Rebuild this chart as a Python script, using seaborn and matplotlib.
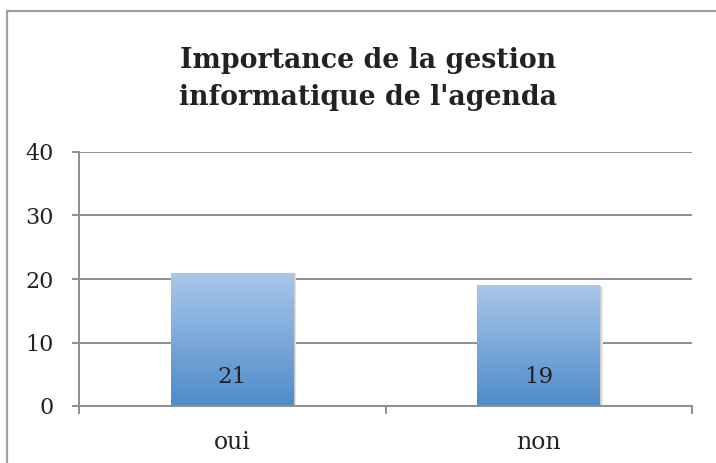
import numpy as np
import pandas as pd
import matplotlib
matplotlib.use("Agg")
from matplotlib import pyplot as plt
from matplotlib.colors import LinearSegmentedColormap
from matplotlib.lines import Line2D
import seaborn as sns

#======== Data ========#
categories = ['oui', 'non']
values = [21, 19]
yticks = [0, 10, 20, 30, 40]
title = "Importance de la gestion\ninformatique de l'agenda"

df = pd.DataFrame({'reponse': categories, 'nombre': values})

sns.set_style('white')
plt.rcParams['font.family'] = ['DejaVu Serif']

W, H = 716, 463
fig = plt.figure(figsize=(W / 100, H / 100), dpi=100)
ax = fig.add_axes([79 / W, 1 - 406 / H, (692 - 79) / W, (406 - 152) / H])

grid_col = '#8e8e8e'
txt_col = '#222222'
sns.barplot(x='reponse', y='nombre', data=df, ax=ax, width=0.4,
            color='#7aa7da', edgecolor='none', zorder=3)

# gradient fill clipped to each bar
cmap = LinearSegmentedColormap.from_list('bleu', ['#4e8bca', '#a9c7e9'])
grad = np.linspace(0, 1, 256).reshape(-1, 1)
for p in ax.patches:
    x0, y0 = p.get_x(), p.get_y()
    w, h = p.get_width(), p.get_height()
    # soft shadow
    for k, c in enumerate(['#c8c8c8', '#e2e2e2']):
        sh = plt.Rectangle((x0 + 0.004 * (k + 1), y0 - 0.12 * (k + 1)), w, h,
                           facecolor=c, edgecolor='none', zorder=2.9 - 0.1 * k)
        ax.add_patch(sh)
    p.set_facecolor('none')
    im = ax.imshow(grad, cmap=cmap, origin='lower', aspect='auto',
                   extent=[x0, x0 + w, y0, y0 + h], zorder=3.5)
    im.set_clip_path(p)

ax.set_xlim(-0.5, 1.5)
ax.set_ylim(0, 40)
ax.set_yticks(yticks)
ax.yaxis.grid(True, color=grid_col, linewidth=1.4, zorder=1)
ax.set_axisbelow(True)
ax.set_xlabel('')
ax.set_ylabel('')

for s in ['top', 'right']:
    ax.spines[s].set_visible(False)
for s in ['left', 'bottom']:
    ax.spines[s].set_color(grid_col)
    ax.spines[s].set_linewidth(1.4)
    ax.spines[s].set_zorder(4)

ax.tick_params(axis='y', length=5, width=1.4, color=grid_col, labelsize=16,
               labelcolor=txt_col, pad=13, left=True)
ax.set_xticks([-0.5, 0.5, 1.5], minor=True)
ax.tick_params(axis='x', which='major', length=0, labelsize=17,
               labelcolor=txt_col, pad=18)
ax.tick_params(axis='x', which='minor', length=6, width=1.4, color=grid_col,
               bottom=True)

for i, v in enumerate(values):
    ax.text(i, 4.5, str(v), ha='center', va='center', fontsize=16.5,
            color=txt_col, zorder=5)

fig.text(368 / W, 1 - 79 / H, title, ha='center', va='center',
         fontsize=19.3, fontweight='bold', color=txt_col, linespacing=1.47)

# chart area border (left and top visible)
fig.add_artist(Line2D([7 / W, 7 / W], [0, 1 - 11 / H], color='#a0a0a0',
                      linewidth=1.6, transform=fig.transFigure))
fig.add_artist(Line2D([7 / W, 1], [1 - 11 / H, 1 - 11 / H], color='#a0a0a0',
                      linewidth=1.6, transform=fig.transFigure))

plt.savefig('out.png', dpi=100)
